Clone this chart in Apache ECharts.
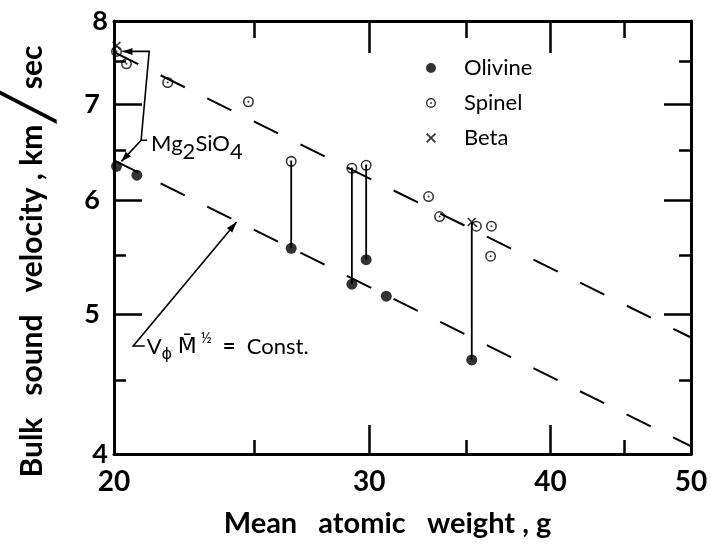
<!DOCTYPE html>
<html>
<head>
<meta charset="utf-8">
<script src="https://cdn.jsdelivr.net/npm/echarts@6/dist/echarts.min.js"></script>
<style>
  html, body { margin: 0; padding: 0; background: #fff; }
  #chart { width: 711px; height: 546px; }
</style>
</head>
<body>
<div id="chart"></div>
<script>
// Mean atomic weight (g) and bulk sound velocity (km/sec) for each phase
const olivineM = [20.08, 20.74, 26.5, 29.18, 29.85, 30.82, 35.3];
const olivineV = [6.34, 6.25, 5.56, 5.25, 5.46, 5.15, 4.65];
const spinelM = [20.08, 20.40, 21.78, 24.76, 26.5, 29.18, 29.85, 32.96, 33.54, 35.56, 36.42, 36.37];
const spinelV = [7.62, 7.47, 7.25, 7.03, 6.39, 6.32, 6.35, 6.04, 5.85, 5.76, 5.76, 5.49];
const betaM = [20.08, 35.3];
const betaV = [7.69, 5.80];

// Tie lines: olivine index -> high-pressure phase index
const spinelTies = [[2, 4], [3, 5], [4, 6]];
const betaTies = [[6, 1]];

// V * M^(1/2) = const reference lines, end points (M, V)
const upperConstLine = [[20, 7.61], [50, 4.82]];
const lowerConstLine = [[20, 6.40], [50, 4.05]];

// Axis ticks
const xMajor = [20, 30, 40, 50];
const xMinor = [25, 35, 45];
const yMajor = [4, 5, 6, 7, 8];
const yMinor = [4.5, 5.5, 6.5, 7.5];

const FONT = 'Lato';
const BLACK = '#000';

const zip = (xs, ys) => xs.map((x, i) => [x, ys[i]]);

const spinelPath = 'path://M0,-10A10,10 0 1,1 0,10A10,10 0 1,1 0,-10Z' +
  'M0,-7.2A7.2,7.2 0 1,0 0,7.2A7.2,7.2 0 1,0 0,-7.2Z' +
  'M0,-1.9A1.9,1.9 0 1,1 0,1.9A1.9,1.9 0 1,1 0,-1.9Z';
const betaPath = 'path://M-10,-7.6L-7.6,-10L0,-2.4L7.6,-10L10,-7.6L2.4,0L10,7.6L7.6,10L0,2.4L-7.6,10L-10,7.6L-2.4,0Z';

function logAxis(pos, ticks, len, showLine, extra) {
  const horizontal = pos === 'top' || pos === 'bottom';
  return Object.assign({
    type: 'log',
    logBase: 10,
    position: pos,
    min: horizontal ? 20 : 4,
    max: horizontal ? 50 : 8,
    gridIndex: 0,
    axisLine: { show: showLine, onZero: false, lineStyle: { color: BLACK, width: 3 } },
    axisTick: { show: true, inside: true, length: len, customValues: ticks,
      lineStyle: { color: BLACK, width: 2.5 } },
    axisLabel: { show: false },
    splitLine: { show: false },
    minorTick: { show: false },
    minorSplitLine: { show: false }
  }, extra || {});
}

const tieSeries = [];
spinelTies.forEach(([o, s]) => tieSeries.push([[olivineM[o], olivineV[o]], [spinelM[s], spinelV[s]]]));
betaTies.forEach(([o, b]) => tieSeries.push([[olivineM[o], olivineV[o]], [betaM[b], betaV[b]]]));

const chart = echarts.init(document.getElementById('chart'), null, { renderer: 'canvas' });

const option = {
  backgroundColor: '#fff',
  animation: false,
  textStyle: { fontFamily: FONT, color: BLACK },
  grid: { left: 107.5, right: 20, top: 21, bottom: 92, containLabel: false },
  legend: {
    orient: 'vertical',
    left: 421,
    top: 51,
    itemWidth: 10,
    itemHeight: 10,
    itemGap: 11,
    data: ['Olivine', 'Spinel', 'Beta'],
    textStyle: { fontFamily: FONT, fontSize: 22, color: BLACK, padding: [0, 0, 0, 23], lineHeight: 24 },
    selectedMode: false
  },
  xAxis: [
    logAxis('bottom', xMajor, 29, true, {
      axisLabel: { show: true, customValues: xMajor, fontFamily: FONT, fontSize: 28, fontWeight: 'bold',
        color: BLACK, margin: 14, alignMinLabel: 'center', alignMaxLabel: 'center', hideOverlap: false,
        formatter: v => String(Math.round(v)) },
      name: 'Mean   atomic   weight , g',
      nameLocation: 'middle',
      nameGap: 55,
      nameTextStyle: { fontFamily: FONT, fontSize: 29, fontWeight: 'bold', color: BLACK, padding: [0, 30, 0, 0] }
    }),
    logAxis('bottom', xMinor, 14, false),
    logAxis('top', [30, 40], 32, true),
    logAxis('top', xMinor, 17, false)
  ],
  yAxis: [
    logAxis('left', yMajor, 28, true, {
      axisLabel: { show: true, customValues: yMajor, fontFamily: FONT, fontSize: 27, fontWeight: 'bold',
        color: BLACK, margin: 14, alignMinLabel: 'center', alignMaxLabel: 'center', hideOverlap: false,
        formatter: v => String(Math.round(v)) },
      name: 'Bulk   sound   velocity , km{s|╱}sec',
      nameLocation: 'middle',
      nameGap: 57,
      nameRotate: 90,
      nameTextStyle: { fontFamily: FONT, fontSize: 30, fontWeight: 'bold', color: BLACK, padding: [0, 48, 0, 0],
        rich: { s: { fontFamily: 'DejaVu Sans', fontSize: 49, fontWeight: 'normal', color: BLACK, padding: [0, 3, 0, 3] } } }
    }),
    logAxis('left', yMinor, 12, false),
    logAxis('right', [5, 6, 7], 27, true),
    logAxis('right', yMinor, 12, false)
  ],
  series: [
    {
      name: 'upper const', type: 'line', data: upperConstLine, symbol: 'none', silent: true, z: 1,
      lineStyle: { color: BLACK, width: 2, type: [27, 25] }
    },
    {
      name: 'lower const', type: 'line', data: lowerConstLine, symbol: 'none', silent: true, z: 1,
      lineStyle: { color: BLACK, width: 2, type: [27, 25] }
    },
    ...tieSeries.map((d, i) => ({
      name: 'tie' + i, type: 'line', data: d, symbol: 'none', silent: true, z: 2,
      lineStyle: { color: BLACK, width: 1.8 }
    })),
    {
      name: 'Olivine', type: 'scatter', data: zip(olivineM, olivineV), symbol: 'circle', symbolSize: 11,
      itemStyle: { color: BLACK }, z: 5
    },
    {
      name: 'Spinel', type: 'scatter', data: zip(spinelM, spinelV), symbol: spinelPath, symbolSize: 11,
      itemStyle: { color: BLACK }, z: 5
    },
    {
      name: 'Beta', type: 'scatter', data: zip(betaM, betaV), symbol: betaPath, symbolSize: 9,
      itemStyle: { color: BLACK }, z: 6
    }
  ]
};

chart.setOption(option);

// Annotation leader lines, placed in data coordinates
const toPx = (p) => chart.convertToPixel({ xAxisIndex: 0, yAxisIndex: 0 }, p);

function arrowHead(tip, from, len, half) {
  const dx = tip[0] - from[0], dy = tip[1] - from[1];
  const d = Math.hypot(dx, dy);
  const ux = dx / d, uy = dy / d;
  const bx = tip[0] - ux * len, by = tip[1] - uy * len;
  return {
    type: 'polygon', silent: true, z: 20,
    shape: { points: [tip, [bx - uy * half, by + ux * half], [bx + uy * half, by - ux * half]] },
    style: { fill: BLACK }
  };
}

const lineStyle = { stroke: BLACK, lineWidth: 1.6, fill: null };

// Mg2SiO4 bracket
const bSp = toPx([20.27, 7.62]);
const bTop = toPx([21.15, 7.62]);
const bCorner = toPx([20.88, 6.61]);
const bLab = toPx([21.08, 6.61]);
const bOl = toPx([20.24, 6.39]);

// V M^1/2 = const pointer
const cStub = toPx([21.0, 4.755]);
const cCorner = toPx([20.62, 4.755]);
const cTip = toPx([24.3, 5.80]);

const graphic = [
  { type: 'polyline', silent: true, z: 20, shape: { points: [bSp, bTop, bCorner, bLab] }, style: lineStyle },
  arrowHead(bSp, bTop, 10, 3.5),
  { type: 'polyline', silent: true, z: 20, shape: { points: [bCorner, bOl] }, style: lineStyle },
  arrowHead(bOl, bCorner, 10, 3.5),
  { type: 'polyline', silent: true, z: 20, shape: { points: [cStub, cCorner, cTip] }, style: lineStyle },
  arrowHead(cTip, cCorner, 11, 3.5),
  {
    type: 'text', silent: true, z: 20, x: bLab[0] + 4, y: bLab[1] + 4,
    style: {
      text: 'Mg{sub|2}SiO{sub|4}',
      fontFamily: FONT, fontSize: 22, fill: BLACK, align: 'left', verticalAlign: 'middle', lineHeight: 38,
      rich: { sub: { fontFamily: FONT, fontSize: 22, fill: BLACK, lineHeight: 16, verticalAlign: 'bottom' } }
    }
  },
  {
    type: 'text', silent: true, z: 20, x: cStub[0] + 2, y: cCorner[1] + 1,
    style: {
      text: 'V{sub|ϕ} {bar|M\u0304}{sup| ½}  {eq|=}  Const.',
      fontFamily: FONT, fontSize: 22, fill: BLACK, align: 'left', verticalAlign: 'middle', lineHeight: 32,
      rich: {
        sub: { fontFamily: 'DejaVu Sans', fontSize: 16, fill: BLACK, lineHeight: 14, verticalAlign: 'bottom' },
        bar: { fontFamily: 'DejaVu Sans', fontSize: 22, fill: BLACK },
        sup: { fontFamily: FONT, fontSize: 15, fill: BLACK, lineHeight: 12, verticalAlign: 'top' },
        eq: { fontFamily: FONT, fontSize: 22, fontWeight: 'bold', fill: BLACK }
      }
    }
  }
];

chart.setOption({ graphic: graphic });
</script>
</body>
</html>
